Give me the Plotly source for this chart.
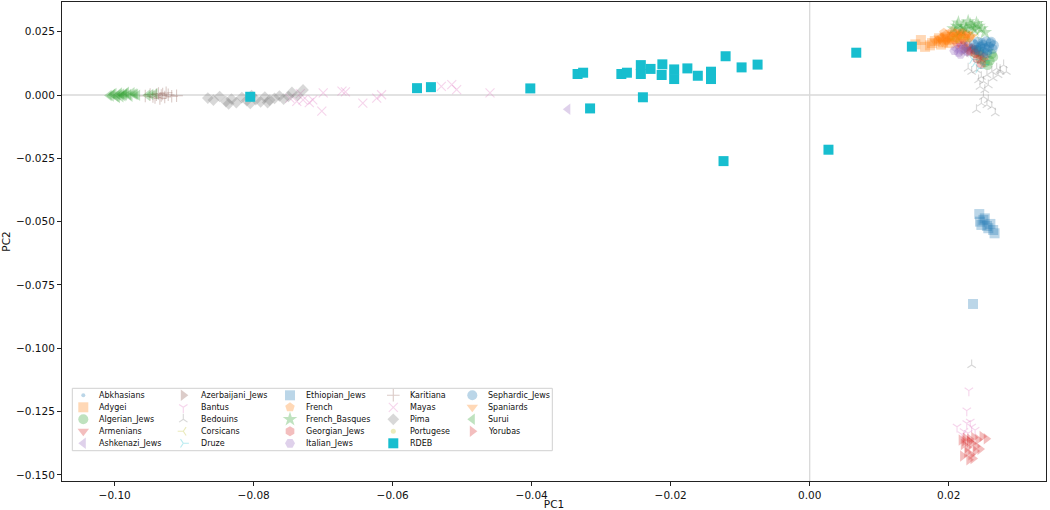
import plotly.graph_objects as go

# ---------------- axis ticks ----------------
x_ticks = [-0.10, -0.08, -0.06, -0.04, -0.02, 0.00, 0.02]
x_tick_labels = ["−0.10", "−0.08", "−0.06", "−0.04", "−0.02", "0.00", "0.02"]
y_ticks = [0.025, 0.0, -0.025, -0.05, -0.075, -0.1, -0.125, -0.15]
y_tick_labels = ["0.025", "0.000", "−0.025", "−0.050", "−0.075", "−0.100", "−0.125", "−0.150"]

# ---------------- data (PC1, PC2) ----------------
populations = ["Abkhasians", "Adygei", "Algerian_Jews", "Armenians", "Ashkenazi_Jews",
               "Azerbaijani_Jews", "Bantus", "Bedouins", "Corsicans", "Druze",
               "Ethiopian_Jews", "French", "French_Basques", "Georgian_Jews", "Italian_Jews",
               "Karitiana", "Mayas", "Pima", "Portugese", "RDEB",
               "Sephardic_Jews", "Spaniards", "Surui", "Yorubas"]

abkhasians_x = [0.0225, 0.0232, 0.0238, 0.0241, 0.0246, 0.0229, 0.0250, 0.0236]
abkhasians_y = [0.0205, 0.0198, 0.0212, 0.0190, 0.0201, 0.0216, 0.0194, 0.0185]

adygei_x = [0.0152, 0.0160, 0.0166, 0.0173, 0.0180, 0.0186, 0.0192, 0.0198, 0.0205, 0.0212,
            0.0189, 0.0176, 0.0218, 0.0201, 0.0195]
adygei_y = [0.0200, 0.0217, 0.0190, 0.0196, 0.0213, 0.0224, 0.0208, 0.0219, 0.0230, 0.0222,
            0.0199, 0.0205, 0.0236, 0.0205, 0.0228]

algerian_jews_x = [0.0246, 0.0252, 0.0259, 0.0264, 0.0249, 0.0256, 0.0238, 0.0243, 0.0262]
algerian_jews_y = [0.0140, 0.0128, 0.0135, 0.0150, 0.0158, 0.0118, 0.0165, 0.0172, 0.0162]

armenians_x = [0.0212, 0.0218, 0.0224, 0.0229, 0.0215, 0.0221, 0.0233, 0.0226]
armenians_y = [0.0196, 0.0188, 0.0201, 0.0192, 0.0205, 0.0210, 0.0186, 0.0180]

ashkenazi_jews_x = [-0.0348, 0.0210, 0.0216, 0.0222, 0.0228, 0.0219, 0.0225, 0.0231]
ashkenazi_jews_y = [-0.0056, 0.0182, 0.0176, 0.0188, 0.0179, 0.0194, 0.0170, 0.0184]

azerbaijani_jews_x = [0.0222, 0.0229, 0.0235, 0.0226, 0.0240]
azerbaijani_jews_y = [0.0178, 0.0172, 0.0181, 0.0186, 0.0176]

bantus_x = [0.0229, 0.0226, 0.0212, 0.0226, 0.0233, 0.0238, 0.0228, 0.0222, 0.0231, 0.0219]
bantus_y = [-0.1167, -0.1246, -0.1310, -0.1296, -0.1310, -0.1323, -0.1335, -0.1328, -0.1290, -0.1340]

bedouins_x = [0.0228, 0.0233, 0.0240, 0.0247, 0.0255, 0.0262, 0.0269, 0.0274, 0.0279, 0.0283,
              0.0250, 0.0245, 0.0257, 0.0252, 0.0250, 0.0257, 0.0255, 0.0247, 0.0262, 0.0267,
              0.0240, 0.0274, 0.0271, 0.0264, 0.0243, 0.0233]
bedouins_y = [0.0105, 0.0092, 0.0099, 0.0072, 0.0079, 0.0092, 0.0105, 0.0099, 0.0118, 0.0092,
              0.0053, 0.0033, 0.0039, 0.0020, -0.0007, -0.0020, -0.0039, -0.0033, -0.0046, -0.0072,
              -0.0059, 0.0092, 0.0079, 0.0066, 0.0059, -0.1066]

corsicans_x = [0.0212, 0.0219, 0.0226, 0.0233, 0.0240, 0.0208]
corsicans_y = [0.0232, 0.0240, 0.0228, 0.0246, 0.0236, 0.0222]

druze_x = [0.0243, 0.0238, 0.0249, 0.0234, 0.0246, 0.0252]
druze_y = [0.0105, 0.0128, 0.0120, 0.0140, 0.0148, 0.0135]

ethiopian_jews_x = [0.0244, 0.0250, 0.0247, 0.0255, 0.0260, 0.0257, 0.0264, 0.0266, 0.0252, 0.0245, 0.0235]
ethiopian_jews_y = [-0.0470, -0.0493, -0.0513, -0.0517, -0.0509, -0.0526, -0.0533, -0.0546, -0.0487, -0.0500, -0.0825]

french_x = [0.0190, 0.0196, 0.0203, 0.0209, 0.0214, 0.0220, 0.0226, 0.0199, 0.0211, 0.0218,
            0.0205, 0.0224, 0.0231, 0.0193, 0.0184, 0.0202]
french_y = [0.0226, 0.0238, 0.0231, 0.0245, 0.0236, 0.0249, 0.0240, 0.0214, 0.0222, 0.0231,
            0.0252, 0.0226, 0.0235, 0.0246, 0.0215, 0.0220]

french_basques_x = [0.0207, 0.0214, 0.0221, 0.0228, 0.0234, 0.0240, 0.0247, 0.0218, 0.0231, 0.0225,
                    0.0243, 0.0212, 0.0237, 0.0252]
french_basques_y = [0.0262, 0.0285, 0.0270, 0.0290, 0.0268, 0.0283, 0.0262, 0.0258, 0.0278, 0.0262,
                    0.0272, 0.0272, 0.0258, 0.0247]

georgian_jews_x = [0.0232, 0.0238, 0.0245, 0.0251, 0.0241, 0.0236, 0.0247]
georgian_jews_y = [0.0172, 0.0165, 0.0158, 0.0150, 0.0142, 0.0180, 0.0122]

italian_jews_x = [0.0208, 0.0214, 0.0220, 0.0226, 0.0217]
italian_jews_y = [0.0175, 0.0168, 0.0181, 0.0172, 0.0160]

karitiana_x = [-0.0956, -0.0949, -0.0942, -0.0937, -0.0933, -0.0928, -0.0923, -0.0918, -0.0911,
               -0.0935, -0.0926, -0.0945, -0.0931, -0.0940]
karitiana_y = [-0.0004, 0.0002, -0.0010, 0.0006, -0.0002, -0.0008, 0.0001, -0.0005, -0.0003,
               -0.0014, 0.0009, -0.0006, 0.0004, 0.0001]

mayas_x = [-0.0748, -0.0738, -0.0729, -0.0715, -0.0700, -0.0702, -0.0673, -0.0668, -0.0643,
           -0.0623, -0.0616, -0.0530, -0.0515, -0.0508, -0.0460, -0.0733, -0.0720]
mayas_y = [-0.0012, -0.0025, -0.0019, -0.0019, 0.0008, -0.0064, 0.0015, 0.0012, -0.0032,
           -0.0012, 0.0001, 0.0034, 0.0041, 0.0021, 0.0008, 0.0005, -0.0030]

pima_x = [-0.0866, -0.0858, -0.0849, -0.0840, -0.0832, -0.0825, -0.0817, -0.0810, -0.0803, -0.0797,
          -0.0790, -0.0784, -0.0777, -0.0770, -0.0763, -0.0757, -0.0750, -0.0745, -0.0737, -0.0729,
          -0.0836, -0.0805, -0.0780]
pima_y = [-0.0012, -0.0020, -0.0006, -0.0026, -0.0016, -0.0030, -0.0010, -0.0022, -0.0002, -0.0018,
          -0.0027, -0.0008, -0.0020, -0.0013, -0.0004, -0.0016, -0.0006, 0.0010, -0.0002, 0.0020,
          -0.0035, -0.0033, -0.0030]

portugese_x = [0.0205, 0.0213, 0.0219, 0.0227, 0.0210]
portugese_y = [0.0222, 0.0215, 0.0229, 0.0218, 0.0235]

rdeb_x = [-0.0805, -0.0565, -0.0545, -0.0402, -0.0334, -0.0326, -0.0316, -0.0271, -0.0263, -0.0243,
          -0.0243, -0.0229, -0.0240, -0.0212, -0.0213, -0.0195, -0.0195, -0.0176, -0.0161, -0.0142,
          -0.0142, -0.0121, -0.0124, -0.0098, -0.0075, 0.0027, 0.0067, 0.0147]
rdeb_y = [-0.0007, 0.0027, 0.0031, 0.0026, 0.0083, 0.0088, -0.0053, 0.0083, 0.0088, 0.0118,
          0.0083, 0.0103, -0.0009, 0.0121, 0.0079, 0.0101, 0.0063, 0.0105, 0.0076, 0.0092,
          0.0063, 0.0153, -0.0261, 0.0109, 0.0120, -0.0216, 0.0167, 0.0191]

sephardic_jews_x = [0.0236, 0.0242, 0.0248, 0.0254, 0.0260, 0.0265, 0.0240, 0.0246, 0.0252, 0.0258,
                    0.0263, 0.0244, 0.0250, 0.0256, 0.0249, 0.0255, 0.0239, 0.0261]
sephardic_jews_y = [0.0200, 0.0210, 0.0205, 0.0212, 0.0204, 0.0196, 0.0188, 0.0192, 0.0185, 0.0190,
                    0.0182, 0.0175, 0.0170, 0.0176, 0.0198, 0.0165, 0.0178, 0.0210]

spaniards_x = [0.0188, 0.0194, 0.0200, 0.0206, 0.0212, 0.0218, 0.0224, 0.0230, 0.0197, 0.0203,
               0.0209, 0.0215, 0.0221, 0.0227, 0.0233, 0.0191, 0.0212, 0.0180, 0.0186]
spaniards_y = [0.0218, 0.0232, 0.0222, 0.0240, 0.0228, 0.0244, 0.0232, 0.0222, 0.0210, 0.0248,
               0.0212, 0.0252, 0.0217, 0.0240, 0.0230, 0.0207, 0.0238, 0.0212, 0.0226]

surui_x = [-0.1008, -0.1003, -0.0998, -0.0993, -0.0988, -0.0983, -0.0978, -0.0972, -0.0967,
           -0.0996, -0.0986, -0.0975, -0.1001, -0.0990, -0.0953, -0.0942, -0.1005, -0.0995,
           -0.0985, -0.0980, -0.0970, -0.0991, -0.0948]
surui_y = [-0.0002, 0.0003, -0.0006, 0.0008, -0.0003, 0.0011, -0.0005, 0.0004, -0.0001,
           -0.0010, 0.0000, 0.0009, 0.0006, 0.0004, -0.0001, 0.0005, -0.0004, 0.0001,
           0.0006, 0.0002, 0.0003, -0.0007, 0.0002]

yorubas_x = [0.0218, 0.0224, 0.0230, 0.0236, 0.0242, 0.0248, 0.0254, 0.0221, 0.0227, 0.0233,
             0.0239, 0.0226, 0.0232, 0.0238, 0.0220, 0.0229, 0.0235, 0.0245, 0.0223, 0.0230]
yorubas_y = [-0.1362, -0.1355, -0.1368, -0.1352, -0.1360, -0.1348, -0.1357, -0.1380, -0.1392, -0.1375,
             -0.1387, -0.1410, -0.1420, -0.1405, -0.1425, -0.1440, -0.1435, -0.1398, -0.1365, -0.1358]

pop_x = [abkhasians_x, adygei_x, algerian_jews_x, armenians_x, ashkenazi_jews_x,
         azerbaijani_jews_x, bantus_x, bedouins_x, corsicans_x, druze_x,
         ethiopian_jews_x, french_x, french_basques_x, georgian_jews_x, italian_jews_x,
         karitiana_x, mayas_x, pima_x, portugese_x, rdeb_x,
         sephardic_jews_x, spaniards_x, surui_x, yorubas_x]
pop_y = [abkhasians_y, adygei_y, algerian_jews_y, armenians_y, ashkenazi_jews_y,
         azerbaijani_jews_y, bantus_y, bedouins_y, corsicans_y, druze_y,
         ethiopian_jews_y, french_y, french_basques_y, georgian_jews_y, italian_jews_y,
         karitiana_y, mayas_y, pima_y, portugese_y, rdeb_y,
         sephardic_jews_y, spaniards_y, surui_y, yorubas_y]

# ---------------- styles ----------------
tab10 = ["#1f77b4", "#ff7f0e", "#2ca02c", "#d62728", "#9467bd",
         "#8c564b", "#e377c2", "#7f7f7f", "#bcbd22", "#17becf"]
symbols = ["circle", "square", "circle", "triangle-down", "triangle-left",
           "triangle-right", "y-down", "y-up", "y-left", "y-right",
           "square", "pentagon", "star", "hexagon", "hexagon2",
           "cross-thin", "x-thin", "diamond", "circle", "square",
           "circle", "triangle-down", "triangle-left", "triangle-right"]
sizes = [4, 10, 10, 10, 10, 10, 7, 7, 7, 7,
         10, 10, 11, 10, 10, 9, 9, 9, 5, 10,
         10, 10, 10, 10]
line_symbols = {"y-down", "y-up", "y-left", "y-right", "cross-thin", "x-thin"}
FONT = "DejaVu Sans"


def marker_for(i):
    color = tab10[i % 10]
    sym = symbols[i]
    alpha = 1.0 if populations[i] == "RDEB" else 0.3
    if sym in line_symbols:
        return dict(symbol=sym, size=sizes[i], opacity=alpha, color=color,
                    line=dict(color=color, width=1.1))
    return dict(symbol=sym, size=sizes[i], opacity=alpha, color=color,
                line=dict(width=0))


fig = go.Figure()
for i, name in enumerate(populations):
    fig.add_trace(go.Scatter(x=pop_x[i], y=pop_y[i], mode="markers", name=name,
                             marker=marker_for(i), showlegend=False,
                             xaxis="x", yaxis="y"))

# ---------------- manual legend (5 columns, column-major) on a pixel overlay ----------------
W, H = 1050, 510
ml, mr, mt, mb = 62, 4, 2, 29
leg_marker_x = [83.3, 183.3, 290.0, 393.3, 472.3]
leg_text_x = [97.3, 199.3, 304.3, 407.7, 486.0]
leg_top, leg_row = 395.3, 12.0
leg_rows = 5
for i, name in enumerate(populations):
    col, row = divmod(i, leg_rows)
    fig.add_trace(go.Scatter(x=[leg_marker_x[col]], y=[leg_top + row * leg_row],
                             mode="markers", marker=marker_for(i), showlegend=False,
                             hoverinfo="skip", xaxis="x2", yaxis="y2"))
    fig.add_annotation(x=leg_text_x[col], y=leg_top + row * leg_row, xref="x2", yref="y2",
                       text=name, showarrow=False, xanchor="left", yanchor="middle",
                       font=dict(family=FONT, size=8, color="#111"))

fig.add_shape(type="rect", xref="x2", yref="y2", x0=72.3, x1=552.3, y0=388.3, y1=450.7,
              line=dict(color="#d0d0d0", width=1), fillcolor="rgba(255,255,255,0.8)",
              layer="below")

# reference lines at zero
fig.add_hline(y=0, line=dict(color="#d9d9d9", width=1.3), layer="below")
fig.add_vline(x=0, line=dict(color="#d9d9d9", width=1.3), layer="below")

x0_px = 809.7
px_per_x = 6950.0
y0_px = 95.0
px_per_y = 2533.0
x_range = [(ml - x0_px) / px_per_x, (W - mr - x0_px) / px_per_x]
y_range = [-(H - mb - y0_px) / px_per_y, (y0_px - mt) / px_per_y]

axis_common = dict(showline=True, linecolor="#222", linewidth=1, mirror=True,
                   ticks="outside", ticklen=4, tickwidth=1, tickcolor="#222",
                   showgrid=False, zeroline=False,
                   tickfont=dict(family=FONT, size=10.5, color="#111"))

fig.update_layout(
    width=W, height=H,
    margin=dict(l=ml, r=mr, t=mt, b=mb),
    paper_bgcolor="white", plot_bgcolor="white",
    showlegend=False,
    xaxis=dict(range=x_range, tickvals=x_ticks, ticktext=x_tick_labels,
               title=dict(text="PC1", standoff=2, font=dict(family=FONT, size=10.5, color="#111")),
               automargin=False, **axis_common),
    yaxis=dict(range=y_range, tickvals=y_ticks, ticktext=y_tick_labels,
               title=dict(text="PC2", standoff=4, font=dict(family=FONT, size=10.5, color="#111")),
               automargin=False, **axis_common),
    xaxis2=dict(range=[ml, W - mr], overlaying="x", visible=False, fixedrange=True),
    yaxis2=dict(range=[H - mb, mt], overlaying="y", visible=False, fixedrange=True),
)

fig.write_html("out.html",
               config={"displayModeBar": False},
               post_script="document.body.style.margin='0';document.body.style.padding='0';"
                           "document.body.style.overflow='hidden';")
